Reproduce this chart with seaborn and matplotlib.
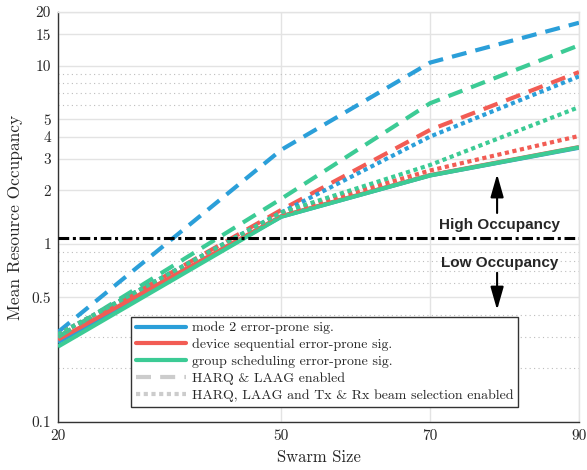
import numpy as np
import pandas as pd
import matplotlib
matplotlib.use("Agg")
import matplotlib.pyplot as plt
import seaborn as sns
from matplotlib.lines import Line2D
from matplotlib.ticker import FixedLocator, FixedFormatter, NullFormatter

sns.set_style("white")
plt.rcParams['font.family'] = ['cmr10', 'DejaVu Serif']
plt.rcParams['mathtext.fontset'] = 'cm'
plt.rcParams['axes.formatter.use_mathtext'] = True

# ---- data ----
swarm = [20, 50, 70, 90]
mode2_ep = [0.28, 1.42, 2.42, 3.46]
device_ep = [0.29, 1.43, 2.43, 3.49]
group_ep = [0.265, 1.42, 2.42, 3.48]
mode2_harq = [0.32, 3.37, 10.4, 17.4]
device_harq = [0.30, 1.55, 4.36, 9.2]
group_harq = [0.30, 1.79, 6.15, 13.0]
mode2_beam = [0.31, 1.50, 4.0, 8.7]
device_beam = [0.31, 1.48, 2.58, 4.03]
group_beam = [0.31, 1.50, 2.77, 5.85]
threshold = 1.08

yticks = [0.1, 0.5, 1, 2, 3, 4, 5, 10, 15, 20]
yticklabels = ["0.1", "0.5", "1", "2", "3", "4", "5", "10", "15", "20"]
yminor = [0.2, 0.3, 0.4, 0.6, 0.7, 0.8, 0.9, 6, 7, 8, 9]
xticks = [20, 50, 70, 90]

legend_labels = ["mode 2 error-prone sig.", "device sequential error-prone sig.",
                 "group scheduling error-prone sig.", "HARQ & LAAG enabled",
                 "HARQ, LAAG and Tx & Rx beam selection enabled"]

BLUE = "#2b9fd9"
RED = "#f25c54"
GREEN = "#3ccb95"
GRAY = "#cccccc"

fig = plt.figure(figsize=(5.87, 4.70), dpi=100)
ax = fig.add_axes([0.0988, 0.102, 0.8875, 0.8725])

DASH = (0, (3.6, 2.2))
DOT = (0, (1.0, 0.85))

series = [
    (mode2_ep, BLUE, '-'), (device_ep, RED, '-'), (group_ep, GREEN, '-'),
    (mode2_harq, BLUE, DASH), (device_harq, RED, DASH), (group_harq, GREEN, DASH),
    (mode2_beam, BLUE, DOT), (device_beam, RED, DOT), (group_beam, GREEN, DOT),
]
for vals, col, ls in series:
    df = pd.DataFrame({"x": swarm, "y": vals})
    sns.lineplot(data=df, x="x", y="y", ax=ax, color=col, linewidth=3.0,
                 linestyle=ls, legend=False, zorder=3)
for l in ax.lines:
    l.set_solid_capstyle('butt')
    l.set_dash_capstyle('butt')

ax.axhline(threshold, color='black', linewidth=2.2,
           linestyle=(0, (3.5, 1.2, 1.0, 1.2)), zorder=4)

ax.set_yscale('log')
ax.set_xlim(20, 90)
ax.set_ylim(0.1, 20)
ax.yaxis.set_major_locator(FixedLocator(yticks))
ax.yaxis.set_major_formatter(FixedFormatter(yticklabels))
ax.yaxis.set_minor_locator(FixedLocator(yminor))
ax.yaxis.set_minor_formatter(NullFormatter())
ax.xaxis.set_major_locator(FixedLocator(xticks))
ax.set_xticklabels([str(t) for t in xticks])

ax.grid(True, which='major', color='#e3e3e3', linewidth=1.0, linestyle='-', zorder=0)
ax.grid(True, which='minor', axis='y', color='#bdbdbd', linewidth=0.8,
        linestyle=(0, (1, 3)), zorder=0)
ax.set_axisbelow(True)

for s in ['top', 'right']:
    ax.spines[s].set_color('#e3e3e3')
    ax.spines[s].set_linewidth(1.0)
for s in ['left', 'bottom']:
    ax.spines[s].set_color('#333333')
    ax.spines[s].set_linewidth(1.0)

ax.tick_params(axis='both', which='major', direction='in', length=4, width=0.8,
               color='#333333', labelsize=11, pad=5)
ax.tick_params(axis='y', which='minor', length=0)
ax.tick_params(top=False, right=False)

ax.set_xlabel("Swarm Size", fontsize=12, labelpad=5)
ax.set_ylabel("Mean Resource Occupancy", fontsize=12.5, labelpad=6)

# annotations
AX = 79.0
ARROW = dict(arrowstyle='-|>,head_length=0.7,head_width=0.2',
             color='black', lw=1.5, mutation_scale=20, shrinkA=0, shrinkB=0)
ax.text(AX + 0.3, 1.278, "High Occupancy", ha='center', va='center', fontsize=11,
        fontweight='bold', family='Liberation Sans')
ax.annotate("", xy=(AX, 2.46), xytext=(AX, 1.49), arrowprops=ARROW)
ax.text(AX + 0.3, 0.777, "Low Occupancy", ha='center', va='center', fontsize=11,
        fontweight='bold', family='Liberation Sans')
ax.annotate("", xy=(AX, 0.426), xytext=(AX, 0.688), arrowprops=ARROW)

handles = [
    Line2D([], [], color=BLUE, lw=3),
    Line2D([], [], color=RED, lw=3),
    Line2D([], [], color=GREEN, lw=3),
    Line2D([], [], color=GRAY, lw=3, linestyle=DASH),
    Line2D([], [], color=GRAY, lw=3, linestyle=DOT),
]
leg = ax.legend(handles, legend_labels, loc='lower left',
                bbox_to_anchor=(0.141, 0.037), fontsize=10, frameon=True,
                fancybox=False, framealpha=1, edgecolor='#333333',
                handlelength=3.6, handletextpad=0.4, borderpad=0.35,
                labelspacing=0.3, borderaxespad=0)
leg.get_frame().set_linewidth(1.0)
leg.set_zorder(10)

fig.savefig("out.png", dpi=100)
